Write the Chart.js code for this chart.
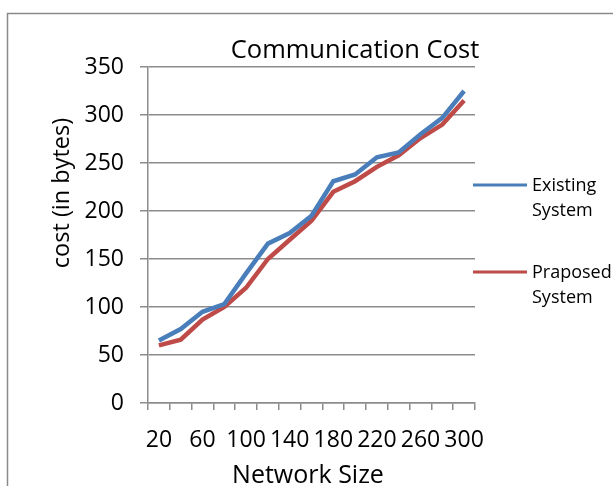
<!DOCTYPE html>
<html>
<head>
<meta charset="utf-8">
<script src="https://cdn.jsdelivr.net/npm/chart.js@4/dist/chart.umd.min.js"></script>
<style>
  html, body { margin: 0; padding: 0; background: #ffffff; }
  #wrap { width: 613px; height: 486px; position: relative; }
</style>
</head>
<body>
<div id="wrap"><canvas id="c" width="613" height="486"></canvas></div>
<script>
// Network sizes on the x axis
const networkSizes = [20, 40, 60, 80, 100, 120, 140, 160, 180, 200, 220, 240, 260, 280, 300];
// Communication cost (bytes) for each scheme
const existingCost = [65, 77, 95, 103, 135, 166, 177, 195, 231, 238, 256, 261, 280, 297, 325];
const proposedCost = [60, 66, 87, 100, 120, 150, 170, 190, 220, 231, 246, 258, 276, 290, 315];
// Series names and captions
const seriesNames = ['Existing System', 'Praposed System'];
const chartTitle = 'Communication Cost';
const xTitle = 'Network Size';
const yTitle = 'cost (in bytes)';

const FONT = "'Open Sans', sans-serif";
const GRID = '#8c8c8c';

// Outer frame, titles and the two-line legend on the right
const decorPlugin = {
  id: 'decor',
  beforeDraw(chart) {
    const ctx = chart.ctx;
    ctx.save();
    ctx.fillStyle = '#ffffff';
    ctx.fillRect(0, 0, chart.width, chart.height);
    ctx.strokeStyle = '#8a8a8a';
    ctx.lineWidth = 1.5;
    ctx.strokeRect(7.5, 13.5, 700, 600);
    ctx.restore();
  },
  afterDraw(chart) {
    const ctx = chart.ctx;
    const area = chart.chartArea;
    ctx.save();
    ctx.fillStyle = '#000000';
    ctx.textBaseline = 'alphabetic';
    ctx.textAlign = 'center';

    // chart title
    ctx.font = '25.5px ' + FONT;
    ctx.fillText(chartTitle, 355, 58);

    // x axis title
    ctx.font = '25px ' + FONT;
    ctx.fillText(xTitle, 308, 483);

    // y axis title
    ctx.save();
    ctx.translate(69, 193);
    ctx.rotate(-Math.PI / 2);
    ctx.font = '23.5px ' + FONT;
    ctx.fillText(yTitle, 0, 0);
    ctx.restore();

    // legend
    const legendY = [185, 272];
    chart.data.datasets.forEach((ds, i) => {
      const y = legendY[i];
      ctx.strokeStyle = ds.borderColor;
      ctx.lineWidth = 3;
      ctx.beginPath();
      ctx.moveTo(area.right - 2, y);
      ctx.lineTo(area.right + 52, y);
      ctx.stroke();
      ctx.fillStyle = '#000000';
      ctx.font = '18px ' + FONT;
      ctx.textAlign = 'left';
      ctx.textBaseline = 'middle';
      const words = ds.label.split(' ');
      words.forEach((w, k) => ctx.fillText(w, area.right + 57, y + 1 + k * 25));
    });
    ctx.restore();
  }
};

new Chart(document.getElementById('c'), {
  type: 'line',
  data: {
    labels: networkSizes,
    datasets: [
      {
        label: seriesNames[0],
        data: existingCost,
        borderColor: '#4a7ebb',
        borderWidth: 4.5,
        pointRadius: 0,
        tension: 0
      },
      {
        label: seriesNames[1],
        data: proposedCost,
        borderColor: '#be4b48',
        borderWidth: 4.5,
        pointRadius: 0,
        tension: 0
      }
    ]
  },
  plugins: [decorPlugin],
  options: {
    responsive: false,
    animation: false,
    layout: { padding: { left: 0, right: 138, top: 67, bottom: 0 } },
    plugins: {
      legend: { display: false },
      title: { display: false },
      tooltip: { enabled: false }
    },
    scales: {
      x: {
        offset: true,
        grid: {
          offset: true,
          drawOnChartArea: false,
          drawTicks: true,
          tickLength: 7,
          color: GRID,
          lineWidth: 1.5
        },
        border: { color: GRID, width: 1.5 },
        ticks: {
          autoSkip: false,
          maxRotation: 0,
          padding: 17,
          color: '#000000',
          font: { family: FONT, size: 23 },
          callback: (v, i) => (i % 2 === 0 ? String(networkSizes[i]) : '')
        },
        afterFit: (s) => { s.height = 83; }
      },
      y: {
        min: 0,
        max: 350,
        ticks: {
          stepSize: 50,
          padding: 16,
          color: '#000000',
          font: { family: FONT, size: 23 }
        },
        grid: {
          color: GRID,
          lineWidth: 1.5,
          tickLength: 8
        },
        border: { color: GRID, width: 1.5 },
        afterFit: (s) => { s.width = 148; }
      }
    }
  }
});
</script>
</body>
</html>
